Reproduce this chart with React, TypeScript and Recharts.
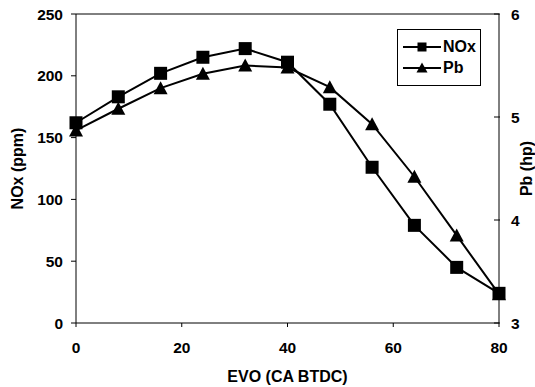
import React from "react";
import {
  Line,
  LineChart,
  ReferenceLine,
  XAxis,
  YAxis,
} from "recharts";

const evo = [0, 8, 16, 24, 32, 40, 48, 56, 64, 72, 80];
const noxPpm = [162, 183, 202, 215, 222, 211, 177, 126, 79, 45, 24];
const pbHp = [4.87, 5.08, 5.28, 5.42, 5.5, 5.48, 5.29, 4.93, 4.42, 3.85, 3.28];

const xTicks = [0, 20, 40, 60, 80];
const noxTicks = [0, 50, 100, 150, 200, 250];
const pbTicks = [3, 4, 5, 6];

const data = evo.map((x, i) => ({ evo: x, nox: noxPpm[i], pb: pbHp[i] }));

const FONT = "'Liberation Sans', Arial, sans-serif";
const tickStyle = { fill: "#000", fontSize: 15.5, fontWeight: 700, fontFamily: FONT };
const titleStyle = { fill: "#000", fontSize: 16, fontWeight: 700, fontFamily: FONT };

function SquareDot(props: any) {
  const { cx, cy, index } = props;
  if (cx == null || cy == null) return <g key={`sq-${index}`} />;
  return <rect key={`sq-${index}`} x={cx - 6.5} y={cy - 6.5} width={13} height={13} fill="#000" />;
}

function TriangleDot(props: any) {
  const { cx, cy, index } = props;
  if (cx == null || cy == null) return <g key={`tr-${index}`} />;
  const pts = `${cx},${cy - 7} ${cx - 7},${cy + 6} ${cx + 7},${cy + 6}`;
  return <polygon key={`tr-${index}`} points={pts} fill="#000" />;
}

// right axis: tick marks point into the plot, labels sit outside
function RightTick(props: any) {
  const { x, y, payload } = props;
  return (
    <g>
      <line x1={x - 17} y1={y} x2={x - 11} y2={y} stroke="#000" strokeWidth={1} />
      <text x={x} y={y} dy="0.36em" textAnchor="start" style={tickStyle}>
        {payload.value}
      </text>
    </g>
  );
}

function LegendBox() {
  const row = (label: string, marker: React.ReactNode) => (
    <div style={{ display: "flex", alignItems: "center", height: 21 }}>
      <svg width={38} height={14}>
        <line x1={0} y1={7} x2={38} y2={7} stroke="#000" strokeWidth={2} />
        {marker}
      </svg>
      <span style={{ marginLeft: 2, fontFamily: FONT, fontWeight: 700, fontSize: 16 }}>{label}</span>
    </div>
  );
  return (
    <div
      style={{
        position: "absolute",
        left: 397,
        top: 29,
        border: "1px solid #000",
        width: 84,
        height: 57,
        boxSizing: "border-box",
        padding: "6px 0 0 5px",
        background: "#fff",
      }}
    >
      {row("NOx", <rect x={14.5} y={2.5} width={9} height={9} fill="#000" />)}
      {row("Pb", <polygon points="19,1.5 13.5,11.5 24.5,11.5" fill="#000" />)}
    </div>
  );
}

export default function App() {
  return (
    <div style={{ position: "relative", width: 535, height: 387, background: "#fff", overflow: "hidden" }}>
      <style>{`body{margin:0}`}</style>
      <LineChart width={535} height={387} data={data} margin={{ top: 14, right: 0, bottom: 0, left: 0 }}>
        <XAxis
          dataKey="evo"
          type="number"
          domain={[0, 80]}
          ticks={xTicks}
          height={64}
          tick={tickStyle}
          tickSize={4}
          tickMargin={15}
          stroke="#000"
          label={{ value: "EVO (CA BTDC)", position: "insideBottom", offset: 5, style: titleStyle }}
        />
        <YAxis
          yAxisId="left"
          domain={[0, 250]}
          ticks={noxTicks}
          width={76}
          tick={tickStyle}
          tickSize={5}
          tickMargin={8}
          stroke="#000"
          label={{ value: "NOx (ppm)", angle: -90, position: "insideLeft", offset: 17, style: { ...titleStyle, textAnchor: "middle" } }}
        />
        <YAxis
          yAxisId="right"
          orientation="right"
          domain={[3, 6]}
          ticks={pbTicks}
          width={36}
          tick={RightTick}
          tickLine={false}
          tickSize={0}
          tickMargin={12}
          stroke="#000"
          label={{ value: "Pb (hp)", angle: -90, position: "insideRight", offset: 9, style: { ...titleStyle, textAnchor: "middle" } }}
        />
        <ReferenceLine yAxisId="left" y={250} stroke="#000" strokeWidth={1} />
        <Line
          yAxisId="left"
          dataKey="nox"
          name="NOx"
          stroke="#000"
          strokeWidth={2}
          dot={SquareDot}
          activeDot={false}
          isAnimationActive={false}
        />
        <Line
          yAxisId="right"
          dataKey="pb"
          name="Pb"
          stroke="#000"
          strokeWidth={2}
          dot={TriangleDot}
          activeDot={false}
          isAnimationActive={false}
        />
      </LineChart>
      <LegendBox />
    </div>
  );
}
